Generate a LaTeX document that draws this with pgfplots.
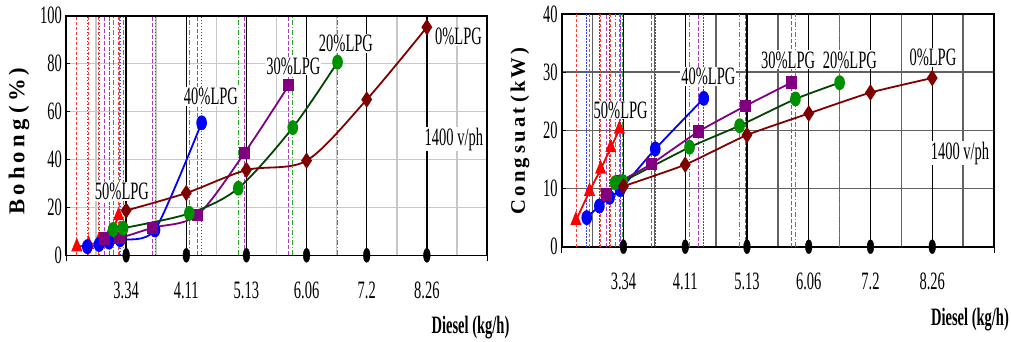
\documentclass[border=0pt]{standalone}
\usepackage{fontspec}
\usepackage{graphicx}
\setmainfont{Liberation Serif}
\newfontfamily\cf{Liberation Serif}[FakeStretch=0.58]
\usepackage{pgfplots}
\usepackage{pgfplotstable}
\pgfplotsset{compat=1.18}

\definecolor{cRed}{RGB}{255,0,0}
\definecolor{cBlue}{RGB}{0,0,255}
\definecolor{cPurp}{RGB}{128,0,128}
\definecolor{cGreenL}{RGB}{0,70,0}
\definecolor{cGreenM}{RGB}{0,145,0}
\definecolor{cBrown}{RGB}{128,0,0}
\definecolor{cDropG}{RGB}{40,170,40}
\definecolor{cDropP}{RGB}{170,60,190}
\definecolor{cDropR}{RGB}{255,60,60}
\definecolor{cDropB}{RGB}{60,60,255}

\newcommand{\tf}{\cf\fontsize{25}{28}\selectfont}
\newcommand{\gp}[1]{\hspace{#1}}

% ---- left chart: Bo hong (%) ----
\pgfplotstableread{
x y
0.36 3.5
0.75 4.5
1.08 5.5
1.43 8
1.75 16.5
}\LRed
\pgfplotstableread{
x y
0.71 3.6
1.10 4.5
1.43 5.5
1.80 6.5
2.96 10.6
4.51 55.3
}\LBlue
\pgfplotstableread{
x y
1.29 7
1.77 7.2
2.88 11.5
4.37 16.8
5.93 42.6
7.41 71
}\LPurp
\pgfplotstableread{
x y
1.57 10.8
1.90 11.3
4.10 17.5
5.73 28
7.54 53.3
9.03 80.6
}\LGreen
\pgfplotstableread{
x y
2 18.7
4 26
6 35.6
8 39.5
10 65
12 95.2
}\LBrown

% ---- right chart: Cong suat (kW) ----
\pgfplotstableread{
x y
0.46 4.5
0.90 9.5
1.26 13.3
1.59 17
1.87 20.2
}\RRed
\pgfplotstableread{
x y
0.81 5
1.22 7
1.55 8.5
1.89 9.8
3.03 16.8
4.60 25.5
}\RBlue
\pgfplotstableread{
x y
1.44 9
1.89 11.2
2.90 14.2
4.43 19.8
5.95 24.2
7.43 28.2
}\RPurp
\pgfplotstableread{
x y
1.73 11
1.97 11.2
4.14 17.1
5.76 20.8
7.57 25.4
9.0 28.2
}\RGreen
\pgfplotstableread{
x y
2 10.4
4 14.1
6 19.2
8 22.9
10 26.5
12 29
}\RBrown

\tikzset{lbl/.style={fill=white, inner sep=1pt, font=\tf}}

\pgfplotsset{
  mychart/.style={
    scale only axis, xmin=0, xmax=14, ymin=0,
    xtick={2,4,...,12},
    xticklabels={3.34,4.11,5.13,6.06,7.2,8.26},
    tick pos=left, tick align=inside,
    major tick length=4pt,
    tick style={black, line width=1pt},
    minor xtick={1,3,...,13}, minor tick length=0pt,
    xminorgrids, ymajorgrids,
    axis line style={line width=1.6pt},
    tick label style={font=\tf},
    /pgf/number format/assume math mode=true,
    xticklabel style={anchor=base, yshift=-43pt},
    yticklabel style={anchor=east, inner sep=0pt, xshift=-4pt},
    clip=false,
    extra x ticks={0,14}, extra x tick labels={},
    extra x tick style={major tick length=6pt, tick align=outside},
  },
  drop/.style={ycomb, no marks, line width=0.8pt},
  ser/.style={line width=1.8pt},
  mRed/.style={mark=triangle*, mark size=7pt, mark options={solid, xscale=0.7, fill=cRed, draw=cRed}},
  mBlue/.style={mark=*, mark size=6.5pt, mark options={solid, xscale=0.68, fill=cBlue, draw=cBlue}},
  mPurp/.style={mark=square*, mark size=5.3pt, mark options={solid, xscale=0.87, fill=cPurp, draw=cPurp}},
  mGreen/.style={mark=*, mark size=6.5pt, mark options={solid, xscale=0.68, fill=cGreenM, draw=cGreenM}},
  mBrown/.style={mark=diamond*, mark size=6.7pt, mark options={solid, xscale=0.87, fill=cBrown, draw=cBrown}},
}

\begin{document}
\begin{tikzpicture}
\useasboundingbox (0,0) rectangle (1011pt,341pt);

% ================= LEFT =================
\begin{axis}[mychart,
  at={(66pt,85.7pt)}, anchor=south west,
  width=421pt, height=239.6pt,
  ymax=100, ytick={0,20,...,100},
  grid style={black!22, line width=1.5pt},
]
\addplot[drop, cDropR, dash pattern=on 3pt off 2pt] table[y expr=100] {\LRed};
\addplot[drop, cDropB, dash pattern=on 1.5pt off 1.5pt] table[y expr=100] {\LBlue};
\addplot[drop, cDropP, dash pattern=on 4pt off 2pt] table[y expr=100] {\LPurp};
\addplot[drop, cDropG, dash pattern=on 5pt off 2pt on 1pt off 2pt] table[y expr=100] {\LGreen};
\addplot[ycomb, no marks, black, line width=1.4pt] coordinates {(2,100)(4,100)(6,100)(8,100)(10,100)(12,100)};

\node[lbl] at (axis cs:1.86,26.8) {50\%LPG};
\node[lbl] at (axis cs:4.82,66.3) {40\%LPG};
\node[lbl] at (axis cs:7.56,79) {30\%LPG};
\node[lbl] at (axis cs:9.31,88.4) {20\%LPG};
\node[lbl] at (axis cs:13.05,91.3) {0\%LPG};
\node[lbl] at (axis cs:12.9,48.5) {1400 v/ph};

\addplot[ser, cRed, smooth, mRed] table {\LRed};
\addplot[ser, cBlue, smooth, tension=0.4, mBlue] table {\LBlue};
\addplot[ser, cPurp, smooth, mPurp] table {\LPurp};
\addplot[ser, cGreenL, smooth, mGreen] table {\LGreen};
\addplot[ser, cBrown, smooth, mBrown] table {\LBrown};

\addplot[only marks, mark=*, mark size=7pt, black, mark options={xscale=0.48}]
  coordinates {(2,0)(4,0)(6,0)(8,0)(10,0)(12,0)};
\end{axis}

% ================= RIGHT =================
\begin{axis}[mychart,
  at={(561.7pt,94.3pt)}, anchor=south west,
  width=432.3pt, height=232.7pt,
  ymax=40, ytick={0,10,...,40},
  grid style={black!62, line width=1.5pt},
]
\addplot[drop, cDropR, dash pattern=on 3pt off 2pt] table[y expr=40] {\RRed};
\addplot[drop, cDropB, dash pattern=on 1.5pt off 1.5pt] table[y expr=40] {\RBlue};
\addplot[drop, cDropP, dash pattern=on 4pt off 2pt] table[y expr=40] {\RPurp};
\addplot[drop, cDropG, dash pattern=on 5pt off 2pt on 1pt off 2pt] table[y expr=40] {\RGreen};
\addplot[ycomb, no marks, black, line width=1.4pt] coordinates {(2,40)(4,40)(6,40)(8,40)(10,40)(12,40)};

\node[lbl] at (axis cs:1.91,23.5) {50\%LPG};
\node[lbl] at (axis cs:4.75,29.3) {40\%LPG};
\node[lbl] at (axis cs:7.33,32.1) {30\%LPG};
\node[lbl] at (axis cs:9.33,32.1) {20\%LPG};
\node[lbl] at (axis cs:12.02,32.6) {0\%LPG};
\node[lbl] at (axis cs:12.9,16.1) {1400 v/ph};

\addplot[ser, cRed, smooth, tension=0.3, mRed] table {\RRed};
\addplot[ser, cBlue, smooth, tension=0.3, mBlue] table {\RBlue};
\addplot[ser, cPurp, smooth, tension=0.3, mPurp] table {\RPurp};
\addplot[ser, cGreenL, smooth, tension=0.3, mGreen] table {\RGreen};
\addplot[ser, cBrown, smooth, tension=0.3, mBrown] table {\RBrown};

\addplot[only marks, mark=*, mark size=7pt, black, mark options={xscale=0.48}]
  coordinates {(2,0)(4,0)(6,0)(8,0)(10,0)(12,0)};
\end{axis}

% axis titles
\node[rotate=90, inner sep=0pt] at (19pt,200pt)
  {\resizebox{147pt}{!}{\rmfamily\bfseries\fontsize{22}{26}\selectfont B\gp{4pt}o\gp{4pt}h\gp{4pt}o\gp{4pt}n\gp{4pt}g\gp{6pt}(\gp{4pt}\%\gp{4pt})}};
\node[rotate=90, inner sep=0pt] at (520pt,210pt)
  {\resizebox{166pt}{!}{\rmfamily\bfseries\fontsize{21}{25}\selectfont C\gp{3pt}o\gp{3pt}n\gp{3pt}g\gp{5pt}s\gp{3pt}u\gp{3pt}a\gp{3pt}t\gp{5pt}(\gp{3pt}k\gp{3pt}W\gp{3pt})}};
\node[anchor=base, inner sep=0pt] at (470.5pt,8pt)
  {\scalebox{0.58}[1]{\rmfamily\bfseries\fontsize{25}{28}\selectfont Diesel (kg/h)}};
\node[anchor=base, inner sep=0pt] at (970pt,16pt)
  {\scalebox{0.58}[1]{\rmfamily\bfseries\fontsize{25}{28}\selectfont Diesel (kg/h)}};
\end{tikzpicture}
\end{document}
